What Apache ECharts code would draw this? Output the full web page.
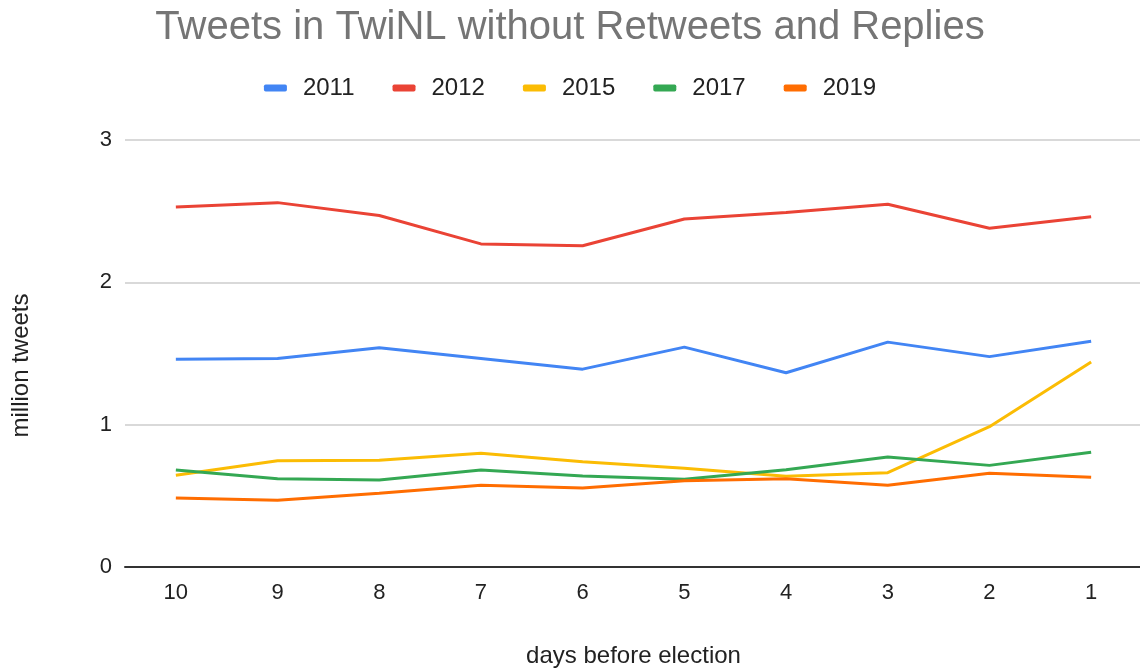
<!DOCTYPE html>
<html>
<head>
<meta charset="utf-8">
<script src="https://cdn.jsdelivr.net/npm/echarts@6/dist/echarts.min.js"></script>
<style>
  html, body { margin: 0; padding: 0; background: #fff; }
  #chart { width: 1140px; height: 672px; }
</style>
</head>
<body>
<div id="chart"></div>
<script>
// Days before the election (x axis categories)
const days = ['10', '9', '8', '7', '6', '5', '4', '3', '2', '1'];

// Tweets per day, in millions, for each election year
const tweets2011 = [1.46, 1.465, 1.54, 1.465, 1.39, 1.545, 1.365, 1.58, 1.478, 1.586];
const tweets2012 = [2.53, 2.56, 2.47, 2.27, 2.257, 2.445, 2.49, 2.548, 2.38, 2.46];
const tweets2015 = [0.644, 0.747, 0.75, 0.799, 0.74, 0.693, 0.637, 0.663, 0.986, 1.44];
const tweets2017 = [0.681, 0.62, 0.611, 0.681, 0.639, 0.616, 0.684, 0.773, 0.714, 0.806];
const tweets2019 = [0.485, 0.469, 0.518, 0.574, 0.555, 0.606, 0.62, 0.575, 0.658, 0.63];

const yTicks = [0, 1, 2, 3];

const FONT = '"Liberation Sans", Arial, sans-serif';

const seriesDefs = [
  { name: '2011', data: tweets2011, color: '#4285F4' },
  { name: '2012', data: tweets2012, color: '#EA4335' },
  { name: '2015', data: tweets2015, color: '#FBBC04' },
  { name: '2017', data: tweets2017, color: '#34A853' },
  { name: '2019', data: tweets2019, color: '#FF6D01' }
];

const chart = echarts.init(document.getElementById('chart'), null, { renderer: 'canvas' });

chart.setOption({
  animation: false,
  backgroundColor: '#ffffff',
  title: {
    text: 'Tweets in TwiNL without Retweets and Replies',
    left: 'center',
    top: 3,
    textStyle: { fontFamily: FONT, fontSize: 40, fontWeight: 'normal', color: '#757575' }
  },
  legend: {
    top: 71,
    left: 'center',
    itemWidth: 23,
    itemHeight: 7,
    itemGap: 38,
    icon: 'roundRect',
    textStyle: { fontFamily: FONT, fontSize: 24, color: '#222222', padding: [0, 0, 0, 11] },
    data: seriesDefs.map(s => s.name)
  },
  grid: { left: 125, right: -2, top: 140, bottom: 105, containLabel: false, outerBoundsMode: 'none' },
  xAxis: {
    type: 'category',
    data: days,
    boundaryGap: true,
    name: 'days before election',
    nameLocation: 'middle',
    nameGap: 77,
    nameTextStyle: { fontFamily: FONT, fontSize: 24, color: '#222222' },
    axisLine: { show: true, lineStyle: { color: '#333333', width: 2 } },
    axisTick: { show: false },
    axisLabel: { fontFamily: FONT, fontSize: 22, color: '#222222', margin: 15 },
    splitLine: { show: false }
  },
  yAxis: {
    type: 'value',
    min: 0,
    max: 3,
    interval: 1,
    name: 'million tweets',
    nameLocation: 'middle',
    nameGap: 92,
    nameRotate: 90,
    nameTextStyle: { fontFamily: FONT, fontSize: 24, color: '#222222', padding: [0, 24, 0, 0] },
    axisLine: { show: false },
    axisTick: { show: false },
    axisLabel: {
      fontFamily: FONT, fontSize: 22, color: '#222222', margin: 13,
      formatter: v => (yTicks.includes(v) ? String(v) : '')
    },
    splitLine: { show: true, lineStyle: { color: '#cccccc', width: 1.5 } }
  },
  series: seriesDefs.map(s => ({
    name: s.name,
    type: 'line',
    data: s.data,
    symbol: 'none',
    smooth: false,
    color: s.color,
    lineStyle: { width: 3, color: s.color }
  }))
});
</script>
</body>
</html>
